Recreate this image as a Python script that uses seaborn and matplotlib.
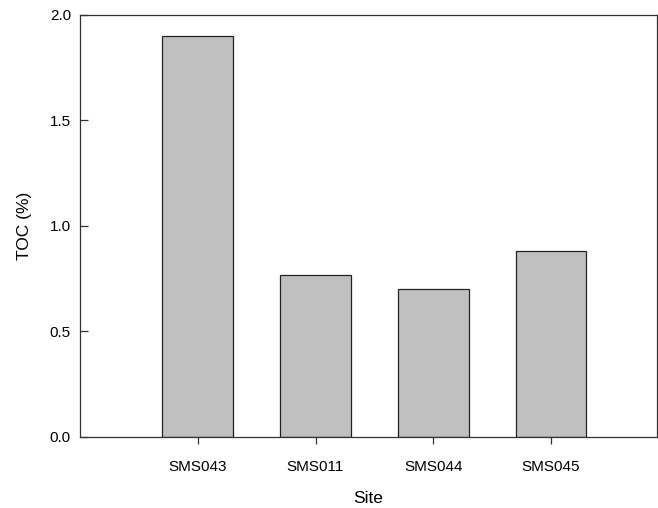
import seaborn as sns
import matplotlib.pyplot as plt
import pandas as pd

sites = ["SMS043", "SMS011", "SMS044", "SMS045"]
toc = [1.90, 0.77, 0.70, 0.88]
y_ticks = [0.0, 0.5, 1.0, 1.5, 2.0]

df = pd.DataFrame({"Site": sites, "TOC": toc})

sns.set_style("ticks")
plt.rcParams["font.family"] = ["Liberation Sans", "DejaVu Sans"]
plt.rcParams["text.color"] = "black"
plt.rcParams["axes.labelcolor"] = "black"
plt.rcParams["xtick.labelcolor"] = "black"
plt.rcParams["ytick.labelcolor"] = "black"

fig = plt.figure(figsize=(6.58, 5.08), dpi=100)
ax = fig.add_axes([0.1216, 0.1398, 0.8769, 0.8307])

sns.barplot(df, x="Site", y="TOC", color="#c0c0c0", saturation=1,
            edgecolor="#222222", linewidth=0.9, width=0.6, ax=ax)

ax.set_xlim(-1.0, 3.9)
ax.set_ylim(0, 2.0)
ax.set_yticks(y_ticks)
ax.set_yticklabels([f"{v:.1f}" for v in y_ticks])
ax.set_xlabel("Site", fontsize=12.5, labelpad=12.5)
ax.set_ylabel("TOC (%)", fontsize=12.5, labelpad=13)
ax.tick_params(axis="x", direction="out", length=5, width=0.9,
               labelsize=11, color="#333333", pad=11.5)
ax.tick_params(axis="y", direction="in", length=6, width=0.9,
               labelsize=11, color="#333333", pad=6.5)
for s in ax.spines.values():
    s.set_visible(True)
    s.set_color("#333333")
    s.set_linewidth(0.9)

fig.savefig("out.png", dpi=100)
